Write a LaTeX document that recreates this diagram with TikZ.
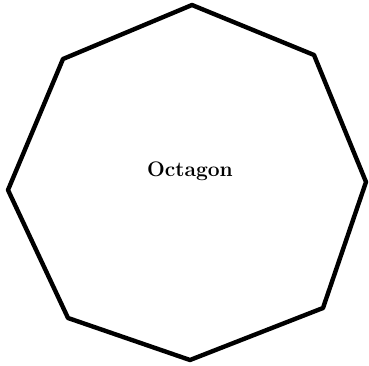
\documentclass[tikz,border=0pt]{standalone}
\begin{document}
\begin{tikzpicture}[x=1pt,y=-1pt,
  edge/.style={line width=4.4pt,line join=round,line cap=round,black},
  label/.style={font=\fontsize{21}{25}\selectfont\bfseries}]
\useasboundingbox (0,0) rectangle (369,366);
\coordinate (v1) at (192,5);
\coordinate (v2) at (314,55);
\coordinate (v3) at (366,182);
\coordinate (v4) at (323,308);
\coordinate (v5) at (190,360);
\coordinate (v6) at (68,318);
\coordinate (v7) at (8,190);
\coordinate (v8) at (63,59);
\draw[edge] (v1) -- (v2) -- (v3) -- (v4) -- (v5) -- (v6) -- (v7) -- (v8) -- cycle;
\node[label] (t) at (190,171) {Octagon};
\end{tikzpicture}
\end{document}
